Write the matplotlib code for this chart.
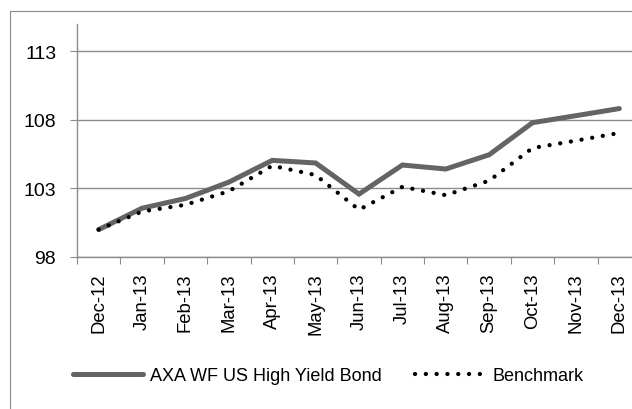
import matplotlib
matplotlib.use("Agg")
import matplotlib.pyplot as plt
from matplotlib.patches import Rectangle
import numpy as np

plt.rcParams['font.family'] = ['Liberation Sans', 'DejaVu Sans']

# Data
months = ["Dec-12", "Jan-13", "Feb-13", "Mar-13", "Apr-13", "May-13", "Jun-13",
          "Jul-13", "Aug-13", "Sep-13", "Oct-13", "Nov-13", "Dec-13"]
fund = [100.0, 101.56, 102.27, 103.46, 105.05, 104.86, 102.59,
        104.71, 104.42, 105.46, 107.8, 108.31, 108.83]
benchmark = [100.0, 101.32, 101.81, 102.8, 104.66, 103.98, 101.45,
             103.12, 102.51, 103.57, 105.95, 106.49, 107.05]
y_ticks = [98, 103, 108, 113]

GRID = '#8c8c8c'

fig = plt.figure(figsize=(6.32, 4.10), dpi=100)

# chart area border (Excel style), runs off the right/bottom edge
fig.patches.append(Rectangle((10 / 632, -0.05), 1.1, 1 - 12 / 410 + 0.05,
                             transform=fig.transFigure, fill=False,
                             edgecolor=GRID, linewidth=0.8))

ax = fig.add_axes([77 / 632, 1 - 258 / 410, (641 - 77) / 632, (258 - 25) / 410])

x = np.arange(len(months))
ax.plot(x, fund, color='#646464', linewidth=3.6, solid_capstyle='round',
        solid_joinstyle='miter', label='AXA WF US High Yield Bond', zorder=3)
ax.plot(x, benchmark, color='black', linewidth=3.1,
        linestyle=(0, (0.01, 2.5)), dash_capstyle='round',
        label='Benchmark', zorder=4)

ax.set_xlim(-0.5, len(months) - 0.5)
ax.set_ylim(98, 115)

ax.set_yticks(y_ticks)
ax.set_yticklabels([str(v) for v in y_ticks], fontsize=14)
ax.tick_params(axis='y', length=5, width=0.8, color=GRID, pad=10)
ax.yaxis.grid(True, color=GRID, linewidth=1.0)
ax.set_axisbelow(True)

# labels in the middle of categories, tick marks on the boundaries
ax.set_xticks(x)
ax.set_xticklabels(months, rotation=90, fontsize=13.3)
ax.tick_params(axis='x', which='major', length=0, pad=11)
ax.set_xticks(np.arange(len(months) + 1) - 0.5, minor=True)
ax.tick_params(axis='x', which='minor', length=5, width=0.8, color=GRID)

for side in ['top', 'right']:
    ax.spines[side].set_visible(False)
for side in ['left', 'bottom']:
    ax.spines[side].set_color(GRID)
    ax.spines[side].set_linewidth(1.0)

fig.legend(loc='center', bbox_to_anchor=(328 / 632, 1 - 377 / 410), ncol=2,
           frameon=False, fontsize=13, handlelength=3.9, handletextpad=0.4,
           columnspacing=1.8)

fig.savefig('out.png', dpi=100, facecolor='white')
